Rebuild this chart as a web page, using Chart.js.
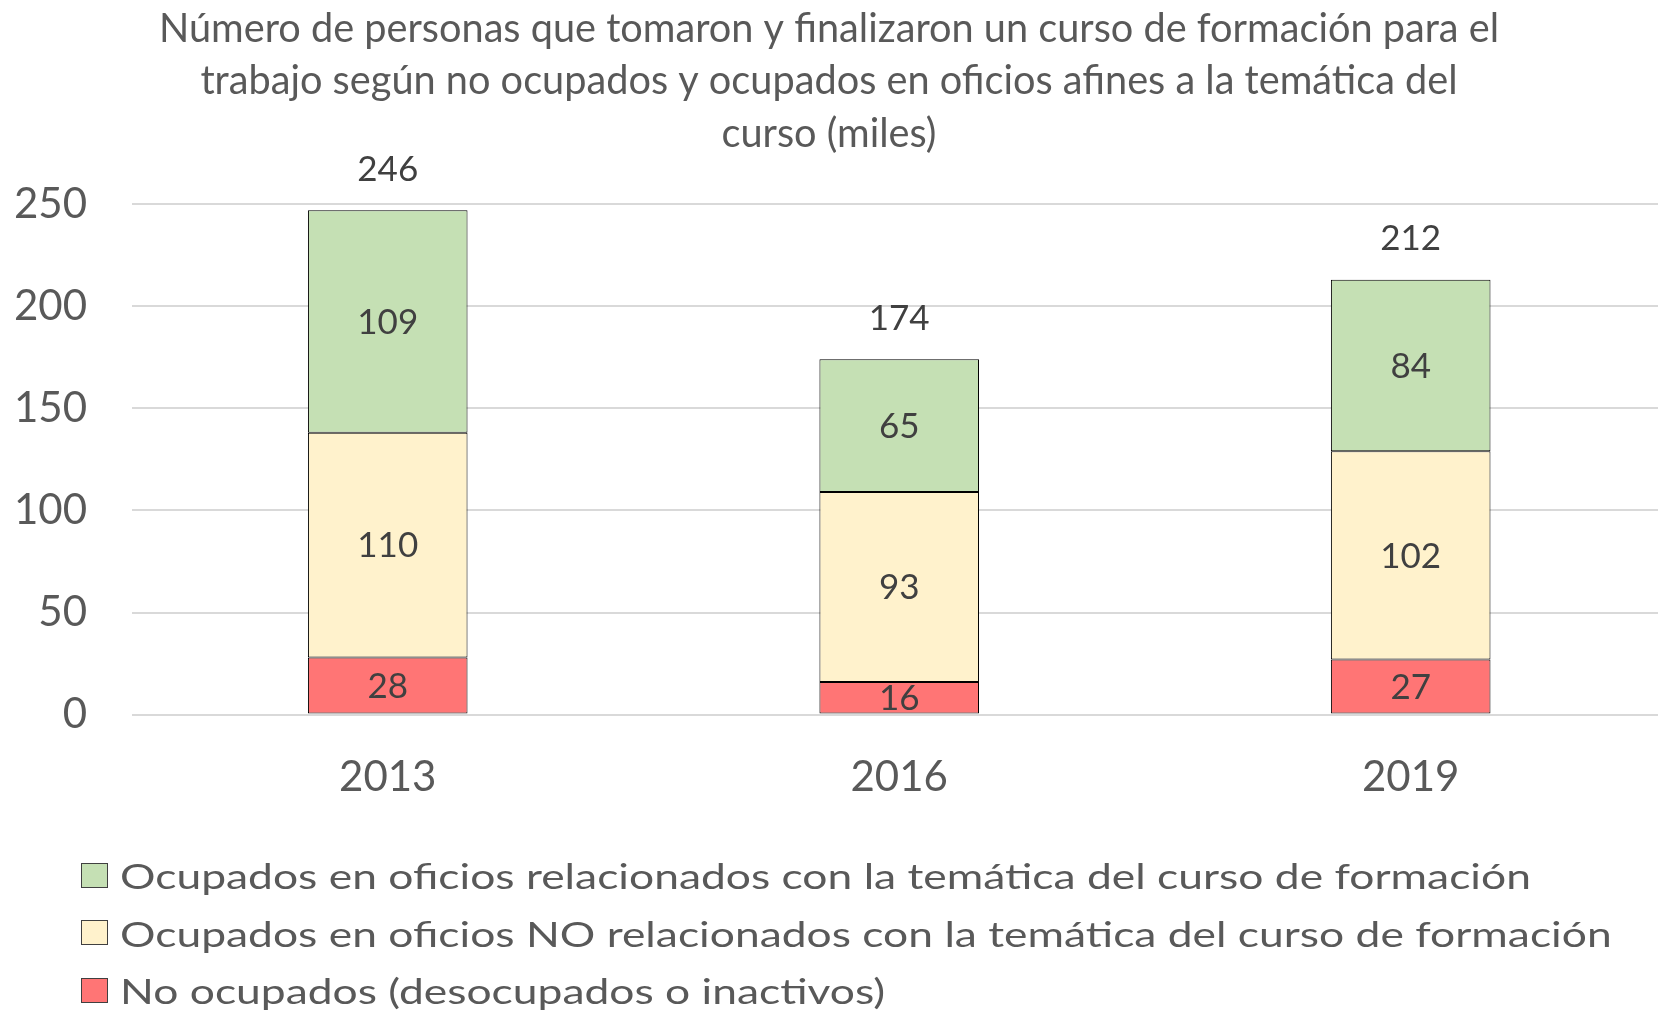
<!DOCTYPE html>
<html><head><meta charset="utf-8">
<script src="https://cdn.jsdelivr.net/npm/chart.js@4.4.1/dist/chart.umd.min.js"></script>
<style>
html,body{margin:0;padding:0;background:#fff;overflow:hidden;width:1658px;height:1014px}
#wrap{position:relative;width:1658px;height:1014px;overflow:hidden}
#c{position:absolute;left:0;top:0}
#legend{position:absolute;left:81px;top:846.5px;font-family:Lato,sans-serif;font-size:35px;color:#595959}
.item{display:flex;align-items:center;height:57.5px;white-space:nowrap}
.box{width:25px;height:23px;border:1px solid #404040;margin-right:12px;flex:none}
.txt{display:inline-block;transform:scaleX(1.268);transform-origin:0 50%}
</style></head>
<body>
<div id="wrap">
<canvas id="c" width="1658" height="1014"></canvas>
<div id="legend"></div>
</div>
<script>
// ---- data ----
const titleLines = [
  "Número de personas que tomaron y finalizaron un curso de formación para el",
  "trabajo según no ocupados y ocupados en oficios afines a la temática del",
  "curso (miles)"
];
const years = ["2013", "2016", "2019"];
const noOcupados = [28, 16, 27];
const ocupadosNoRelacionados = [110, 93, 102];
const ocupadosRelacionados = [109, 65, 84];
const totals = [246, 174, 212];
const seriesNames = [
  "No ocupados (desocupados o inactivos)",
  "Ocupados en oficios NO relacionados con la temática del curso de formación",
  "Ocupados en oficios relacionados con la temática del curso de formación"
];
const yTicks = [0, 50, 100, 150, 200, 250];

// ---- styles ----
const colors = ["#FF7575", "#FFF2CC", "#C5E0B4"];
const FONT = "Lato";
const GREY = "#595959";
const DARK = "#404040";
// plot area in the original runs slightly past the right edge of the picture
const X_RANGE_STRETCH = 0.9945;

const labelPlugin = {
  id: "valueLabels",
  afterDatasetsDraw(chart) {
    const ctx = chart.ctx;
    ctx.save();
    ctx.font = "35px " + FONT;
    ctx.fillStyle = DARK;
    ctx.textAlign = "center";
    ctx.textBaseline = "middle";
    chart.data.datasets.forEach((ds, di) => {
      const meta = chart.getDatasetMeta(di);
      meta.data.forEach((bar, i) => {
        const cy = (bar.y + bar.base) / 2;
        ctx.fillText(String(ds.data[i]), bar.x, cy + 1);
      });
    });
    const top = chart.getDatasetMeta(chart.data.datasets.length - 1);
    top.data.forEach((bar, i) => {
      ctx.fillText(String(totals[i]), bar.x, bar.y - 41);
    });
    ctx.restore();
  }
};

const datasets = [noOcupados, ocupadosNoRelacionados, ocupadosRelacionados].map((d, i) => ({
  label: seriesNames[i],
  data: d,
  backgroundColor: colors[i],
  borderColor: "#000000",
  borderWidth: 1,
  borderSkipped: false,
  barPercentage: 0.312,
  categoryPercentage: 1.0
}));

const chart = new Chart(document.getElementById("c"), {
  type: "bar",
  data: { labels: years, datasets },
  options: {
    responsive: false,
    animation: false,
    devicePixelRatio: 1,
    layout: { padding: { left: 0, right: 0, top: 0, bottom: 173 } },
    plugins: {
      legend: { display: false },
      tooltip: { enabled: false },
      title: {
        display: true,
        text: titleLines,
        color: GREY,
        font: { family: FONT, size: 39.7, weight: "normal", lineHeight: 1.32 },
        padding: { top: 3, bottom: 44 }
      }
    },
    scales: {
      x: {
        stacked: true,
        afterUpdate(scale) { scale._valueRange = scale._valueRange * X_RANGE_STRETCH; },
        grid: { display: false, drawTicks: false },
        border: { display: false },
        ticks: { color: GREY, font: { family: FONT, size: 42 }, padding: 38 }
      },
      y: {
        stacked: true,
        min: 0,
        max: 250,
        afterBuildTicks(scale) { scale.ticks = yTicks.map(v => ({ value: v })); },
        afterFit(scale) { scale.width = 132; },
        grid: { color: "#D9D9D9", lineWidth: 2, drawTicks: false },
        border: { display: false },
        ticks: { color: GREY, font: { family: FONT, size: 42 }, padding: 45 }
      }
    }
  },
  plugins: [labelPlugin]
});

// HTML legend built from the datasets (top series first)
const leg = document.getElementById("legend");
chart.data.datasets.slice().reverse().forEach(ds => {
  const row = document.createElement("div");
  row.className = "item";
  const b = document.createElement("span");
  b.className = "box";
  b.style.background = ds.backgroundColor;
  const t = document.createElement("span");
  t.className = "txt";
  t.textContent = ds.label;
  row.appendChild(b); row.appendChild(t);
  leg.appendChild(row);
});
</script>
</body></html>
